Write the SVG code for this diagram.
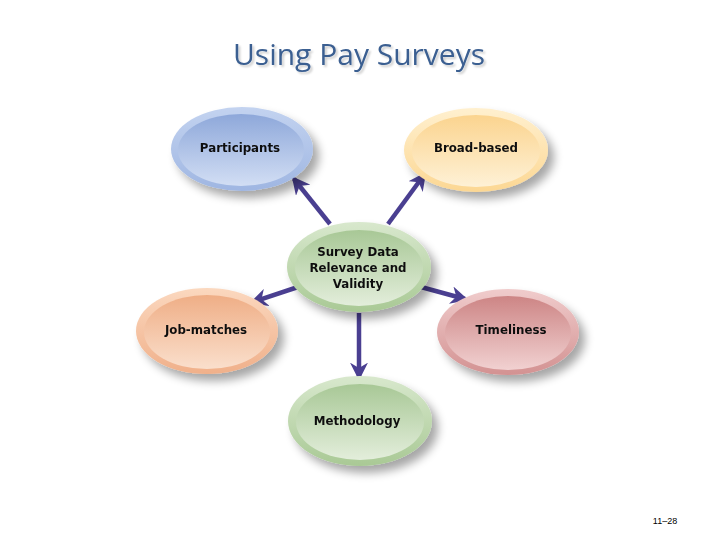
<svg xmlns="http://www.w3.org/2000/svg" width="720" height="540" viewBox="0 0 720 540">
<defs>
<filter id="sh" x="-30%" y="-30%" width="170%" height="170%">
<feGaussianBlur in="SourceAlpha" stdDeviation="5"/>
<feOffset dx="6" dy="7" result="b"/>
<feComponentTransfer><feFuncA type="linear" slope="0.35"/></feComponentTransfer>
<feMerge><feMergeNode/><feMergeNode in="SourceGraphic"/></feMerge>
</filter>
<filter id="tsh" x="-5%" y="-20%" width="110%" height="150%">
<feGaussianBlur in="SourceAlpha" stdDeviation="1"/>
<feOffset dx="2" dy="2"/>
<feComponentTransfer><feFuncA type="linear" slope="0.2"/></feComponentTransfer>
<feMerge><feMergeNode/><feMergeNode in="SourceGraphic"/></feMerge>
</filter>
<linearGradient id="bO" x1="0" y1="0" x2="0" y2="1"><stop offset="0" stop-color="#c3d3f0"/><stop offset="1" stop-color="#9fb6e2"/></linearGradient>
<linearGradient id="bI" x1="0" y1="0" x2="0" y2="1"><stop offset="0" stop-color="#8ea8da"/><stop offset="1" stop-color="#d2def4"/></linearGradient>
<linearGradient id="yO" x1="0" y1="0" x2="0" y2="1"><stop offset="0" stop-color="#fff0cf"/><stop offset="1" stop-color="#fcd793"/></linearGradient>
<linearGradient id="yI" x1="0" y1="0" x2="0" y2="1"><stop offset="0" stop-color="#fbd48f"/><stop offset="1" stop-color="#fef1d6"/></linearGradient>
<linearGradient id="gO" x1="0" y1="0" x2="0" y2="1"><stop offset="0" stop-color="#d8e8cd"/><stop offset="1" stop-color="#a9c995"/></linearGradient>
<linearGradient id="gI" x1="0" y1="0" x2="0" y2="1"><stop offset="0" stop-color="#a8c896"/><stop offset="1" stop-color="#e3eedb"/></linearGradient>
<linearGradient id="oO" x1="0" y1="0" x2="0" y2="1"><stop offset="0" stop-color="#fbd8bf"/><stop offset="1" stop-color="#f0b08a"/></linearGradient>
<linearGradient id="oI" x1="0" y1="0" x2="0" y2="1"><stop offset="0" stop-color="#efae86"/><stop offset="1" stop-color="#fadfcc"/></linearGradient>
<linearGradient id="rO" x1="0" y1="0" x2="0" y2="1"><stop offset="0" stop-color="#f0cccc"/><stop offset="1" stop-color="#d39292"/></linearGradient>
<linearGradient id="rI" x1="0" y1="0" x2="0" y2="1"><stop offset="0" stop-color="#cd8585"/><stop offset="1" stop-color="#f1d1d1"/></linearGradient>
<marker id="ah" viewBox="0 0 10 10" refX="8" refY="5" markerWidth="4" markerHeight="4" orient="auto" markerUnits="strokeWidth">
<path d="M0,0 L10,5 L0,10 L3,5 Z" fill="#4a3f91"/>
</marker>
</defs>
<style>
.lbl{font-family:"DejaVu Sans","Liberation Sans",sans-serif;font-size:11.8px;font-weight:bold;fill:#111;text-anchor:middle}
.cn{stroke:#4a3f91;stroke-width:4.5;fill:none;marker-end:url(#ah)}
</style>
<rect width="720" height="540" fill="#fff"/>
<text x="359" y="65" font-family="'Open Sans','DejaVu Sans',sans-serif" font-size="30" fill="#3b5f91" text-anchor="middle" filter="url(#tsh)">Using Pay Surveys</text>

<g id="connectors">
<line class="cn" x1="330" y1="224" x2="294" y2="179"/>
<line class="cn" x1="388" y1="224" x2="424" y2="175"/>
<line class="cn" x1="298" y1="287" x2="253" y2="302"/>
<line class="cn" x1="421" y1="287" x2="465" y2="299"/>
<line class="cn" x1="359" y1="313" x2="359" y2="377"/>
</g>

<g id="participants" filter="url(#sh)">
<ellipse cx="242" cy="149" rx="71" ry="42" fill="url(#bO)"/>
<ellipse cx="241" cy="150" rx="63" ry="36" fill="url(#bI)"/>
<text class="lbl" x="240" y="152">Participants</text>
</g>
<g id="broad-based" filter="url(#sh)">
<ellipse cx="476" cy="150" rx="72" ry="42" fill="url(#yO)"/>
<ellipse cx="476" cy="151" rx="64" ry="36" fill="url(#yI)"/>
<text class="lbl" x="476" y="152">Broad-based</text>
</g>
<g id="center" filter="url(#sh)">
<ellipse cx="359" cy="267" rx="72" ry="45" fill="url(#gO)"/>
<ellipse cx="359" cy="268" rx="64" ry="38" fill="url(#gI)"/>
<text class="lbl" x="358" y="256">Survey Data</text>
<text class="lbl" x="358" y="272">Relevance and</text>
<text class="lbl" x="358" y="288">Validity</text>
</g>
<g id="job-matches" filter="url(#sh)">
<ellipse cx="207" cy="331" rx="71" ry="43" fill="url(#oO)"/>
<ellipse cx="207" cy="332" rx="63" ry="37" fill="url(#oI)"/>
<text class="lbl" x="206" y="334">Job-matches</text>
</g>
<g id="timeliness" filter="url(#sh)">
<ellipse cx="508" cy="332" rx="71" ry="43" fill="url(#rO)"/>
<ellipse cx="508" cy="333" rx="63" ry="37" fill="url(#rI)"/>
<text class="lbl" x="511" y="334">Timeliness</text>
</g>
<g id="methodology" filter="url(#sh)">
<ellipse cx="360" cy="421" rx="72" ry="45" fill="url(#gO)"/>
<ellipse cx="360" cy="422" rx="64" ry="38" fill="url(#gI)"/>
<text class="lbl" x="357" y="425">Methodology</text>
</g>
<text x="665" y="524" font-family="'Liberation Sans',sans-serif" font-size="9" fill="#000" text-anchor="middle">11–28</text>
</svg>
